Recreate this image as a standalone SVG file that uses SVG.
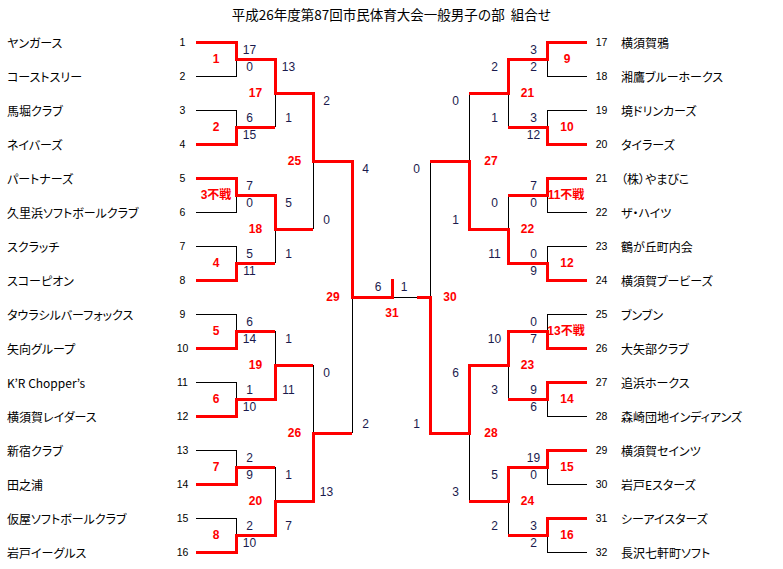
<svg xmlns="http://www.w3.org/2000/svg" width="783" height="569" viewBox="0 0 783 569">
<style>
text{dominant-baseline:central}
.title{font-family:"Noto Sans CJK JP",sans-serif;font-size:13.5px;fill:#000;text-anchor:middle;white-space:pre}
.name{font-family:"Noto Sans CJK JP",sans-serif;font-size:12px;fill:#000;font-feature-settings:"palt"}
.seed{font-family:"Liberation Sans",sans-serif;font-size:10.5px;fill:#000;text-anchor:middle}
.sc{font-family:"Liberation Sans",sans-serif;font-size:12px;fill:#1a1a4d;text-anchor:middle}
.lb{font-family:"Liberation Sans","Noto Sans CJK JP",sans-serif;font-size:12px;font-weight:bold;fill:#ff0000;text-anchor:middle}
.bk{fill:none;stroke:#000;stroke-width:1;shape-rendering:crispEdges}
.rd{fill:none;stroke:#ff0000;stroke-width:3;stroke-linejoin:miter;shape-rendering:crispEdges}
</style>
<rect width="783" height="569" fill="#fff"/>
<text class="title" x="391.5" y="14" xml:space="preserve">平成26年度第87回市民体育大会一般男子の部  組合せ</text>

<g id="connectors">
<path class="bk" d="M196,42H236V76H196M236,59H275M196,110H236V144H196M236,127H275M196,178H236V212H196M236,195H275M196,246H236V280H196M236,263H275M196,314H236V348H196M236,331H275M196,382H236V416H196M236,399H275M196,450H236V484H196M236,467H275M196,518H236V552H196M236,535H275"/>
<path class="bk" d="M275,59V127M275,93H313M275,195V263M275,229H313M275,331V399M275,365H313M275,467V535M275,501H313M313,93V229M313,161H352M313,365V501M313,433H352M352,161V433M352,297H430"/>
<path class="bk" d="M587,42H547V76H587M547,59H508M587,110H547V144H587M547,127H508M587,178H547V212H587M547,195H508M587,246H547V280H587M547,263H508M587,314H547V348H587M547,331H508M587,382H547V416H587M547,399H508M587,450H547V484H587M547,467H508M587,518H547V552H587M547,535H508"/>
<path class="bk" d="M508,59V127M508,93H469M508,195V263M508,229H469M508,331V399M508,365H469M508,467V535M508,501H469M469,93V229M469,161H430M469,365V501M469,433H430M430,161V433"/>
<path class="rd" d="M196,42H236V59H275V93H313V161H352V297H392V279"/>
<path class="rd" d="M196,144H236V127H275"/>
<path class="rd" d="M196,178H236V195H275V229H313"/>
<path class="rd" d="M196,280H236V263H275"/>
<path class="rd" d="M196,348H236V331H275"/>
<path class="rd" d="M196,416H236V399H275V365H313"/>
<path class="rd" d="M196,484H236V467H275"/>
<path class="rd" d="M196,552H236V535H275V501H313V433H352"/>
<path class="rd" d="M587,42H547V59H508V93H469"/>
<path class="rd" d="M587,144H547V127H508"/>
<path class="rd" d="M587,178H547V195H508"/>
<path class="rd" d="M587,280H547V263H508V229H469V161H430"/>
<path class="rd" d="M587,348H547V331H508V365H469V433H430V297H417"/>
<path class="rd" d="M587,382H547V399H508"/>
<path class="rd" d="M587,450H547V467H508V501H469"/>
<path class="rd" d="M587,518H547V535H508"/>
</g>

<g id="team-1"><text class="name" x="7" y="42">ヤンガース</text><text class="seed" x="182.5" y="42">1</text></g>
<g id="team-2"><text class="name" x="7" y="76">コーストスリー</text><text class="seed" x="182.5" y="76">2</text></g>
<g id="team-3"><text class="name" x="7" y="110">馬堀クラブ</text><text class="seed" x="182.5" y="110">3</text></g>
<g id="team-4"><text class="name" x="7" y="144">ネイバーズ</text><text class="seed" x="182.5" y="144">4</text></g>
<g id="team-5"><text class="name" x="7" y="178">パートナーズ</text><text class="seed" x="182.5" y="178">5</text></g>
<g id="team-6"><text class="name" x="7" y="212">久里浜ソフトボールクラブ</text><text class="seed" x="182.5" y="212">6</text></g>
<g id="team-7"><text class="name" x="7" y="246">スクラッチ</text><text class="seed" x="182.5" y="246">7</text></g>
<g id="team-8"><text class="name" x="7" y="280">スコーピオン</text><text class="seed" x="182.5" y="280">8</text></g>
<g id="team-9"><text class="name" x="7" y="314">タウラシルバーフォックス</text><text class="seed" x="182.5" y="314">9</text></g>
<g id="team-10"><text class="name" x="7" y="348">矢向グループ</text><text class="seed" x="182.5" y="348">10</text></g>
<g id="team-11"><text class="name" x="7" y="382">K’R Chopper’s</text><text class="seed" x="182.5" y="382">11</text></g>
<g id="team-12"><text class="name" x="7" y="416">横須賀レイダース</text><text class="seed" x="182.5" y="416">12</text></g>
<g id="team-13"><text class="name" x="7" y="450">新宿クラブ</text><text class="seed" x="182.5" y="450">13</text></g>
<g id="team-14"><text class="name" x="7" y="484">田之浦</text><text class="seed" x="182.5" y="484">14</text></g>
<g id="team-15"><text class="name" x="7" y="518">仮屋ソフトボールクラブ</text><text class="seed" x="182.5" y="518">15</text></g>
<g id="team-16"><text class="name" x="7" y="552">岩戸イーグルス</text><text class="seed" x="182.5" y="552">16</text></g>

<g id="team-17"><text class="seed" x="601.5" y="42">17</text><text class="name" x="621" y="42">横須賀鴉</text></g>
<g id="team-18"><text class="seed" x="601.5" y="76">18</text><text class="name" x="621" y="76">湘鷹ブルーホークス</text></g>
<g id="team-19"><text class="seed" x="601.5" y="110">19</text><text class="name" x="621" y="110">境ドリンカーズ</text></g>
<g id="team-20"><text class="seed" x="601.5" y="144">20</text><text class="name" x="621" y="144">タイラーズ</text></g>
<g id="team-21"><text class="seed" x="601.5" y="178">21</text><text class="name" x="621" y="178">（株）やまびこ</text></g>
<g id="team-22"><text class="seed" x="601.5" y="212">22</text><text class="name" x="621" y="212">ザ・ハイツ</text></g>
<g id="team-23"><text class="seed" x="601.5" y="246">23</text><text class="name" x="621" y="246">鶴が丘町内会</text></g>
<g id="team-24"><text class="seed" x="601.5" y="280">24</text><text class="name" x="621" y="280">横須賀ブービーズ</text></g>
<g id="team-25"><text class="seed" x="601.5" y="314">25</text><text class="name" x="621" y="314">ブンブン</text></g>
<g id="team-26"><text class="seed" x="601.5" y="348">26</text><text class="name" x="621" y="348">大矢部クラブ</text></g>
<g id="team-27"><text class="seed" x="601.5" y="382">27</text><text class="name" x="621" y="382">追浜ホークス</text></g>
<g id="team-28"><text class="seed" x="601.5" y="416">28</text><text class="name" x="621" y="416">森崎団地インディアンズ</text></g>
<g id="team-29"><text class="seed" x="601.5" y="450">29</text><text class="name" x="621" y="450">横須賀セインツ</text></g>
<g id="team-30"><text class="seed" x="601.5" y="484">30</text><text class="name" x="621" y="484">岩戸Eスターズ</text></g>
<g id="team-31"><text class="seed" x="601.5" y="518">31</text><text class="name" x="621" y="518">シーアイスターズ</text></g>
<g id="team-32"><text class="seed" x="601.5" y="552">32</text><text class="name" x="621" y="552">長沢七軒町ソフト</text></g>

<g id="match-1"><text class="lb" x="216" y="59">1</text><text class="sc" x="249.5" y="49.5">17</text><text class="sc" x="249.5" y="66.5">0</text></g>
<g id="match-2"><text class="lb" x="216" y="127">2</text><text class="sc" x="249.5" y="117.5">6</text><text class="sc" x="249.5" y="134.5">15</text></g>
<g id="match-3"><text class="lb" x="216" y="195">3不戦</text><text class="sc" x="249.5" y="185.5">7</text><text class="sc" x="249.5" y="202.5">0</text></g>
<g id="match-4"><text class="lb" x="216" y="263">4</text><text class="sc" x="249.5" y="253.5">5</text><text class="sc" x="249.5" y="270.5">11</text></g>
<g id="match-5"><text class="lb" x="216" y="331">5</text><text class="sc" x="249.5" y="321.5">6</text><text class="sc" x="249.5" y="338.5">14</text></g>
<g id="match-6"><text class="lb" x="216" y="399">6</text><text class="sc" x="249.5" y="389.5">1</text><text class="sc" x="249.5" y="406.5">10</text></g>
<g id="match-7"><text class="lb" x="216" y="467">7</text><text class="sc" x="249.5" y="457.5">2</text><text class="sc" x="249.5" y="474.5">9</text></g>
<g id="match-8"><text class="lb" x="216" y="535">8</text><text class="sc" x="249.5" y="525.5">2</text><text class="sc" x="249.5" y="542.5">10</text></g>
<g id="match-17"><text class="lb" x="255.5" y="93">17</text><text class="sc" x="288.5" y="66.5">13</text><text class="sc" x="288.5" y="117.5">1</text></g>
<g id="match-18"><text class="lb" x="255.5" y="229">18</text><text class="sc" x="288.5" y="202.5">5</text><text class="sc" x="288.5" y="253.5">1</text></g>
<g id="match-19"><text class="lb" x="255.5" y="365">19</text><text class="sc" x="288.5" y="338.5">1</text><text class="sc" x="288.5" y="389.5">11</text></g>
<g id="match-20"><text class="lb" x="255.5" y="501">20</text><text class="sc" x="288.5" y="474.5">1</text><text class="sc" x="288.5" y="525.5">7</text></g>
<g id="match-25"><text class="lb" x="294.5" y="161">25</text><text class="sc" x="326.5" y="100.5">2</text><text class="sc" x="326.5" y="219.5">0</text></g>
<g id="match-26"><text class="lb" x="294.5" y="433">26</text><text class="sc" x="326.5" y="372.5">0</text><text class="sc" x="326.5" y="491.5">13</text></g>
<g id="match-29"><text class="lb" x="333" y="297">29</text><text class="sc" x="365.5" y="168.5">4</text><text class="sc" x="365.5" y="423.5">2</text></g>
<g id="match-31"><text class="lb" x="392" y="313">31</text><text class="sc" x="378" y="287">6</text><text class="sc" x="404" y="287">1</text></g>

<g id="match-9"><text class="lb" x="567" y="59">9</text><text class="sc" x="533.5" y="49.5">3</text><text class="sc" x="533.5" y="66.5">2</text></g>
<g id="match-10"><text class="lb" x="567" y="127">10</text><text class="sc" x="533.5" y="117.5">3</text><text class="sc" x="533.5" y="134.5">12</text></g>
<g id="match-11"><text class="lb" x="566" y="195">11不戦</text><text class="sc" x="533.5" y="185.5">7</text><text class="sc" x="533.5" y="202.5">0</text></g>
<g id="match-12"><text class="lb" x="567" y="263">12</text><text class="sc" x="533.5" y="253.5">0</text><text class="sc" x="533.5" y="270.5">9</text></g>
<g id="match-13"><text class="lb" x="566" y="331">13不戦</text><text class="sc" x="533.5" y="321.5">0</text><text class="sc" x="533.5" y="338.5">7</text></g>
<g id="match-14"><text class="lb" x="567" y="399">14</text><text class="sc" x="533.5" y="389.5">9</text><text class="sc" x="533.5" y="406.5">6</text></g>
<g id="match-15"><text class="lb" x="567" y="467">15</text><text class="sc" x="533.5" y="457.5">19</text><text class="sc" x="533.5" y="474.5">0</text></g>
<g id="match-16"><text class="lb" x="567" y="535">16</text><text class="sc" x="533.5" y="525.5">3</text><text class="sc" x="533.5" y="542.5">2</text></g>
<g id="match-21"><text class="lb" x="527.5" y="93">21</text><text class="sc" x="494.5" y="66.5">2</text><text class="sc" x="494.5" y="117.5">1</text></g>
<g id="match-22"><text class="lb" x="527.5" y="229">22</text><text class="sc" x="494.5" y="202.5">0</text><text class="sc" x="494.5" y="253.5">11</text></g>
<g id="match-23"><text class="lb" x="527.5" y="365">23</text><text class="sc" x="494.5" y="338.5">10</text><text class="sc" x="494.5" y="389.5">3</text></g>
<g id="match-24"><text class="lb" x="527.5" y="501">24</text><text class="sc" x="494.5" y="474.5">5</text><text class="sc" x="494.5" y="525.5">2</text></g>
<g id="match-27"><text class="lb" x="491" y="161">27</text><text class="sc" x="455.5" y="100.5">0</text><text class="sc" x="455.5" y="219.5">1</text></g>
<g id="match-28"><text class="lb" x="491" y="433">28</text><text class="sc" x="455.5" y="372.5">6</text><text class="sc" x="455.5" y="491.5">3</text></g>
<g id="match-30"><text class="lb" x="450" y="297">30</text><text class="sc" x="416.5" y="168.5">0</text><text class="sc" x="416.5" y="423.5">1</text></g>
</svg>
